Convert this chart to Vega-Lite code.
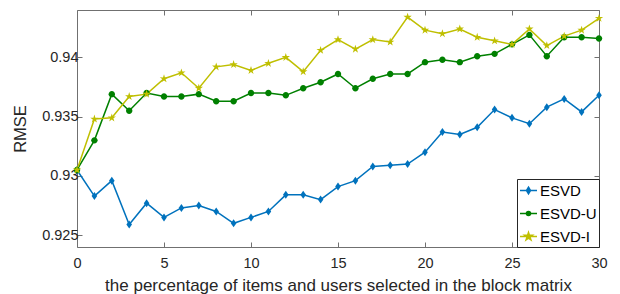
{
  "$schema": "https://vega.github.io/schema/vega-lite/v6.json",
  "width": 522,
  "height": 237,
  "autosize": "none",
  "padding": {"left": 77, "top": 10, "right": 21, "bottom": 47},
  "background": "white",
  "config": {
    "view": {"stroke": "#707070", "strokeWidth": 1},
    "font": "Liberation Sans",
    "axis": {
      "grid": false,
      "domain": false,
      "tickColor": "#707070",
      "tickSize": -5,
      "labelColor": "#262626",
      "labelFontSize": 14.5,
      "labelFlush": false,
      "titleColor": "#262626",
      "titleFontWeight": "normal",
      "labelFont": "Liberation Sans",
      "titleFont": "Liberation Sans"
    },
    "legend": {
      "orient": "bottom-right", "offset": 0,
      "strokeColor": "#262626", "fillColor": "white",
      "padding": 2, "rowPadding": 5,
      "symbolSize": 289, "symbolStrokeWidth": 1.5,
      "labelFontSize": 15, "labelOffset": 2, "labelColor": "#000000", "labelFont": "Liberation Sans"
    }
  },
  "data": {
    "values": [
      {"x":0,"s":"ESVD","v":0.9305},{"x":1,"s":"ESVD","v":0.9283},{"x":2,"s":"ESVD","v":0.9296},{"x":3,"s":"ESVD","v":0.9259},{"x":4,"s":"ESVD","v":0.9277},{"x":5,"s":"ESVD","v":0.9265},{"x":6,"s":"ESVD","v":0.9273},{"x":7,"s":"ESVD","v":0.9275},{"x":8,"s":"ESVD","v":0.927},{"x":9,"s":"ESVD","v":0.926},{"x":10,"s":"ESVD","v":0.9265},{"x":11,"s":"ESVD","v":0.927},{"x":12,"s":"ESVD","v":0.9284},{"x":13,"s":"ESVD","v":0.9284},{"x":14,"s":"ESVD","v":0.928},{"x":15,"s":"ESVD","v":0.9291},{"x":16,"s":"ESVD","v":0.9296},{"x":17,"s":"ESVD","v":0.9308},{"x":18,"s":"ESVD","v":0.9309},{"x":19,"s":"ESVD","v":0.931},{"x":20,"s":"ESVD","v":0.932},{"x":21,"s":"ESVD","v":0.9337},{"x":22,"s":"ESVD","v":0.9335},{"x":23,"s":"ESVD","v":0.9341},{"x":24,"s":"ESVD","v":0.9356},{"x":25,"s":"ESVD","v":0.9349},{"x":26,"s":"ESVD","v":0.9344},{"x":27,"s":"ESVD","v":0.9358},{"x":28,"s":"ESVD","v":0.9365},{"x":29,"s":"ESVD","v":0.9354},{"x":30,"s":"ESVD","v":0.9368},
      {"x":0,"s":"ESVD-U","v":0.9305},{"x":1,"s":"ESVD-U","v":0.933},{"x":2,"s":"ESVD-U","v":0.9369},{"x":3,"s":"ESVD-U","v":0.9355},{"x":4,"s":"ESVD-U","v":0.937},{"x":5,"s":"ESVD-U","v":0.9367},{"x":6,"s":"ESVD-U","v":0.9367},{"x":7,"s":"ESVD-U","v":0.9369},{"x":8,"s":"ESVD-U","v":0.9363},{"x":9,"s":"ESVD-U","v":0.9363},{"x":10,"s":"ESVD-U","v":0.937},{"x":11,"s":"ESVD-U","v":0.937},{"x":12,"s":"ESVD-U","v":0.9368},{"x":13,"s":"ESVD-U","v":0.9374},{"x":14,"s":"ESVD-U","v":0.9379},{"x":15,"s":"ESVD-U","v":0.9386},{"x":16,"s":"ESVD-U","v":0.9374},{"x":17,"s":"ESVD-U","v":0.9382},{"x":18,"s":"ESVD-U","v":0.9386},{"x":19,"s":"ESVD-U","v":0.9386},{"x":20,"s":"ESVD-U","v":0.9396},{"x":21,"s":"ESVD-U","v":0.9398},{"x":22,"s":"ESVD-U","v":0.9396},{"x":23,"s":"ESVD-U","v":0.9401},{"x":24,"s":"ESVD-U","v":0.9403},{"x":25,"s":"ESVD-U","v":0.9411},{"x":26,"s":"ESVD-U","v":0.9419},{"x":27,"s":"ESVD-U","v":0.9401},{"x":28,"s":"ESVD-U","v":0.9417},{"x":29,"s":"ESVD-U","v":0.9417},{"x":30,"s":"ESVD-U","v":0.9416},
      {"x":0,"s":"ESVD-I","v":0.9305},{"x":1,"s":"ESVD-I","v":0.9348},{"x":2,"s":"ESVD-I","v":0.9349},{"x":3,"s":"ESVD-I","v":0.9367},{"x":4,"s":"ESVD-I","v":0.9369},{"x":5,"s":"ESVD-I","v":0.9382},{"x":6,"s":"ESVD-I","v":0.9387},{"x":7,"s":"ESVD-I","v":0.9374},{"x":8,"s":"ESVD-I","v":0.9392},{"x":9,"s":"ESVD-I","v":0.9394},{"x":10,"s":"ESVD-I","v":0.9389},{"x":11,"s":"ESVD-I","v":0.9395},{"x":12,"s":"ESVD-I","v":0.94},{"x":13,"s":"ESVD-I","v":0.9388},{"x":14,"s":"ESVD-I","v":0.9406},{"x":15,"s":"ESVD-I","v":0.9415},{"x":16,"s":"ESVD-I","v":0.9407},{"x":17,"s":"ESVD-I","v":0.9415},{"x":18,"s":"ESVD-I","v":0.9413},{"x":19,"s":"ESVD-I","v":0.9434},{"x":20,"s":"ESVD-I","v":0.9423},{"x":21,"s":"ESVD-I","v":0.942},{"x":22,"s":"ESVD-I","v":0.9424},{"x":23,"s":"ESVD-I","v":0.9417},{"x":24,"s":"ESVD-I","v":0.9414},{"x":25,"s":"ESVD-I","v":0.9411},{"x":26,"s":"ESVD-I","v":0.9424},{"x":27,"s":"ESVD-I","v":0.941},{"x":28,"s":"ESVD-I","v":0.9418},{"x":29,"s":"ESVD-I","v":0.9423},{"x":30,"s":"ESVD-I","v":0.9433}
    ]
  },
  "layer": [
    {
      "mark": {"type": "line", "strokeWidth": 1.5},
      "encoding": {
        "x": {
          "field": "x", "type": "quantitative",
          "scale": {"domain": [0, 30], "nice": false, "zero": false},
          "axis": {"values": [0, 5, 10, 15, 20, 25, 30], "title": "the percentage of items and users selected in the block matrix", "labelPadding": 14, "titlePadding": 8, "titleFontSize": 17}
        },
        "y": {
          "field": "v", "type": "quantitative",
          "scale": {"domain": [0.924, 0.944], "nice": false, "zero": false},
          "axis": {"values": [0.925, 0.93, 0.935, 0.94], "format": "~g", "title": "RMSE", "labelPadding": 4, "titlePadding": 13, "titleFontSize": 16.5}
        },
        "color": {
          "field": "s", "type": "nominal", "title": null,
          "scale": {"domain": ["ESVD", "ESVD-U", "ESVD-I"], "range": ["#0072BD", "#008000", "#BFBF00"]}
        }
      }
    },
    {
      "transform": [{"filter": "datum.s === 'ESVD'"}],
      "mark": {"type": "point", "filled": true, "opacity": 1, "size": 64, "shape": "M0,-1L0.7,0L0,1L-0.7,0Z"},
      "encoding": {
        "x": {"field": "x", "type": "quantitative", "axis": null},
        "y": {"field": "v", "type": "quantitative", "axis": null},
        "color": {"field": "s", "type": "nominal", "title": null}
      }
    },
    {
      "transform": [{"filter": "datum.s === 'ESVD-U'"}],
      "mark": {"type": "point", "filled": true, "opacity": 1, "size": 64, "shape": "M-0.8,0A0.8,0.8,0,1,0,0.8,0A0.8,0.8,0,1,0,-0.8,0Z"},
      "encoding": {
        "x": {"field": "x", "type": "quantitative", "axis": null},
        "y": {"field": "v", "type": "quantitative", "axis": null},
        "color": {"field": "s", "type": "nominal", "title": null}
      }
    },
    {
      "transform": [{"filter": "datum.s === 'ESVD-I'"}],
      "mark": {"type": "point", "filled": true, "opacity": 1, "size": 64, "shape": "M0,-1.1L0.246,-0.338L1.046,-0.34L0.398,0.129L0.647,0.89L0,0.418L-0.647,0.89L-0.398,0.129L-1.046,-0.34L-0.246,-0.338Z"},
      "encoding": {
        "x": {"field": "x", "type": "quantitative", "axis": null},
        "y": {"field": "v", "type": "quantitative", "axis": null},
        "color": {"field": "s", "type": "nominal", "title": null}
      }
    },
    {
      "transform": [{"filter": "datum.s === 'legend-only'"}],
      "mark": {"type": "point", "filled": false, "opacity": 1, "size": 64, "strokeWidth": 1.5},
      "encoding": {
        "x": {
          "field": "x", "type": "quantitative",
          "axis": {"orient": "top", "values": [0, 5, 10, 15, 20, 25, 30], "labels": false, "title": null}
        },
        "y": {
          "field": "v", "type": "quantitative",
          "axis": {"orient": "right", "values": [0.925, 0.93, 0.935, 0.94], "labels": false, "title": null}
        },
        "color": {"field": "s", "type": "nominal", "title": null},
        "shape": {
          "field": "s", "type": "nominal", "title": null,
          "scale": {"domain": ["ESVD", "ESVD-U", "ESVD-I"], "range": [
            "M-1,0L1,0M0,-0.4L0.24,0L0,0.4L-0.24,0Z",
            "M-1,0L1,0M-0.24,0A0.24,0.24,0,1,0,0.24,0A0.24,0.24,0,1,0,-0.24,0Z",
            "M-1,0L1,0M0,-0.48L0.108,-0.148L0.457,-0.148L0.174,0.056L0.282,0.388L0,0.183L-0.282,0.388L-0.174,0.056L-0.457,-0.148L-0.108,-0.148Z"
          ]}
        }
      }
    }
  ],
  "resolve": {"axis": {"x": "independent", "y": "independent"}}
}
